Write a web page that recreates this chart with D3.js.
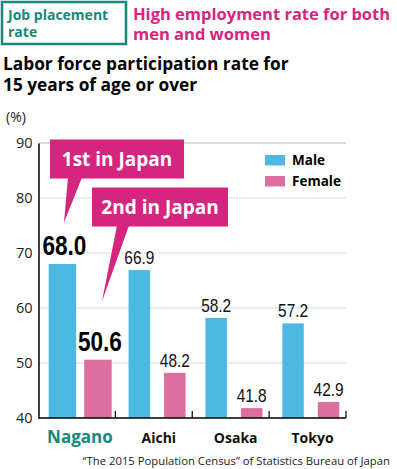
<!DOCTYPE html>
<html lang="en">
<head>
<meta charset="UTF-8">
<title>Labor force participation rate</title>
<script src="https://d3js.org/d3.v7.min.js"></script>
<style>
    body { margin: 0; background: #fff; }
    svg { display: block; font-family: "Open Sans", "Noto Sans", sans-serif; }
</style>
</head>
<body>
<div id="chart"></div>
<script>
const prefectures = ['Nagano', 'Aichi', 'Osaka', 'Tokyo'];
const maleRates = [68.0, 66.9, 58.2, 57.2];
const femaleRates = [50.6, 48.2, 41.8, 42.9];
const yTicks = [40, 50, 60, 70, 80, 90];
const seriesNames = ['Male', 'Female'];
const seriesColors = ['#4cb9e2', '#dd6fa0'];

const width = 397, height = 469;
const svg = d3.select('#chart').append('svg')
    .attr('width', width)
    .attr('height', height);

const teal = '#19887a';
const magenta = '#d6257f';

// header
svg.append('rect')
    .attr('x', 2).attr('y', 2).attr('width', 124).attr('height', 42)
    .attr('fill', 'none').attr('stroke', teal).attr('stroke-width', 2.5);
svg.append('text').attr('x', 8).attr('y', 20)
    .attr('fill', teal).attr('font-weight', 'bold').attr('font-size', 14)
    .text('Job placement');
svg.append('text').attr('x', 8).attr('y', 37)
    .attr('fill', teal).attr('font-weight', 'bold').attr('font-size', 14)
    .text('rate');
svg.append('text').attr('x', 133).attr('y', 20)
    .attr('fill', magenta).attr('font-weight', 'bold').attr('font-size', 16.5)
    .text('High employment rate for both');
svg.append('text').attr('x', 133).attr('y', 40)
    .attr('fill', magenta).attr('font-weight', 'bold').attr('font-size', 16.5)
    .text('men and women');
svg.append('text').attr('x', 3).attr('y', 70)
    .attr('fill', '#000').attr('font-weight', 'bold').attr('font-size', 17.3)
    .text('Labor force participation rate for');
svg.append('text').attr('x', 3).attr('y', 91)
    .attr('fill', '#000').attr('font-weight', 'bold').attr('font-size', 17.3)
    .text('15 years of age or over');
svg.append('text').attr('x', 6).attr('y', 122)
    .attr('font-size', 14).attr('fill', '#222').text('(%)');

// scales
const x0 = d3.scaleBand().domain(prefectures).range([38.5, 346]).paddingInner(0);
const y = d3.scaleLinear().domain([40, 90]).range([418, 143]);

// grid
svg.append('g').selectAll('line')
    .data(yTicks.slice(1))
    .join('line')
    .attr('x1', 38.5).attr('x2', 346)
    .attr('y1', d => y(d)).attr('y2', d => y(d))
    .attr('stroke', '#dcdcdc').attr('stroke-width', d => d === 90 ? 2 : 1.2);

// y axis
const yAxis = svg.append('g')
    .attr('transform', 'translate(38.5,0)')
    .call(d3.axisLeft(y).tickValues(yTicks).tickSize(0).tickPadding(6));
yAxis.select('.domain').attr('stroke', '#000').attr('stroke-width', 1.5);
yAxis.selectAll('text').attr('font-size', 14.5).attr('fill', '#222')
    .attr('font-family', '"Open Sans", sans-serif');

const data = prefectures.map((p, i) => ({ name: p, values: [maleRates[i], femaleRates[i]] }));

// bars
const groups = svg.append('g').selectAll('g')
    .data(data)
    .join('g')
    .attr('transform', d => `translate(${x0(d.name) + x0.bandwidth() / 2},0)`);

groups.each(function (d, gi) {
    const g = d3.select(this);
    const bw = gi === 0 ? 27.5 : 21.5;
    d.values.forEach((v, si) => {
        const cx = si === 0 ? -14.5 : 21;
        g.append('rect')
            .attr('x', cx - bw / 2)
            .attr('y', y(v))
            .attr('width', bw)
            .attr('height', y(40) - y(v))
            .attr('fill', seriesColors[si]);
        g.append('text')
            .attr('x', cx + (gi === 0 ? 2 : 0))
            .attr('y', y(v) - (gi === 0 ? 9 : 6))
            .attr('text-anchor', 'middle')
            .attr('font-family', '"Liberation Sans", sans-serif')
            .attr('font-size', gi === 0 ? 28 : 19)
            .attr('font-weight', gi === 0 ? 'bold' : 'normal')
            .attr('fill', gi === 0 ? '#000' : '#111')
            .attr('textLength', gi === 0 ? 44 : 30)
            .attr('lengthAdjust', 'spacingAndGlyphs')
            .text(v.toFixed(1));
    });
});

// x axis
svg.append('line')
    .attr('x1', 38.5).attr('x2', 346).attr('y1', 418).attr('y2', 418)
    .attr('stroke', '#000').attr('stroke-width', 1.5);
svg.append('g').selectAll('line')
    .data(prefectures.slice(1).map(p => x0(p)).concat([346]))
    .join('line')
    .attr('x1', d => d).attr('x2', d => d)
    .attr('y1', 418).attr('y2', 411)
    .attr('stroke', '#000').attr('stroke-width', 1.2);

svg.append('g').selectAll('text')
    .data(prefectures)
    .join('text')
    .attr('x', d => x0(d) + x0.bandwidth() / 2 + (d === 'Nagano' ? 3 : 5))
    .attr('y', 443)
    .attr('text-anchor', 'middle')
    .attr('font-weight', 'bold')
    .attr('font-size', d => d === 'Nagano' ? 17 : 14)
    .attr('fill', d => d === 'Nagano' ? teal : '#111')
    .text(d => d);

// legend
const legend = svg.append('g');
seriesNames.forEach((s, i) => {
    legend.append('rect')
        .attr('x', 265).attr('y', 155 + i * 21)
        .attr('width', 20).attr('height', 10.5)
        .attr('fill', seriesColors[i]);
    legend.append('text')
        .attr('x', 292).attr('y', 165 + i * 21)
        .attr('font-weight', 'bold').attr('font-size', 13.5)
        .text(s);
});

// callouts
function callout(rx, ry, rw, rh, base1, base2, tip, label) {
    svg.append('path')
        .attr('d', `M${base1},${ry + rh - 1}L${base2},${ry + rh - 1}L${tip[0]},${tip[1]}Z`)
        .attr('fill', magenta);
    svg.append('rect')
        .attr('x', rx).attr('y', ry).attr('width', rw).attr('height', rh)
        .attr('fill', magenta);
    svg.append('text')
        .attr('x', rx + rw / 2).attr('y', ry + rh / 2 + 7)
        .attr('text-anchor', 'middle')
        .attr('fill', '#fff').attr('font-weight', 'bold').attr('font-size', 19)
        .text(label);
}
const first = [x0('Nagano') + x0.bandwidth() / 2 - 13, y(75.5)];
callout(50, 139.5, 134, 39, 68, 82, first, '1st in Japan');
const second = [x0('Nagano') + x0.bandwidth() / 2 + 25, y(61.2)];
callout(92, 187.5, 136, 39, 117, 129, second, '2nd in Japan');

// source
svg.append('text')
    .attr('x', 390).attr('y', 465)
    .attr('text-anchor', 'end')
    .attr('font-size', 11.3).attr('fill', '#222')
    .text('\u201CThe 2015 Population Census\u201D of Statistics Bureau of Japan');
</script>
</body>
</html>
